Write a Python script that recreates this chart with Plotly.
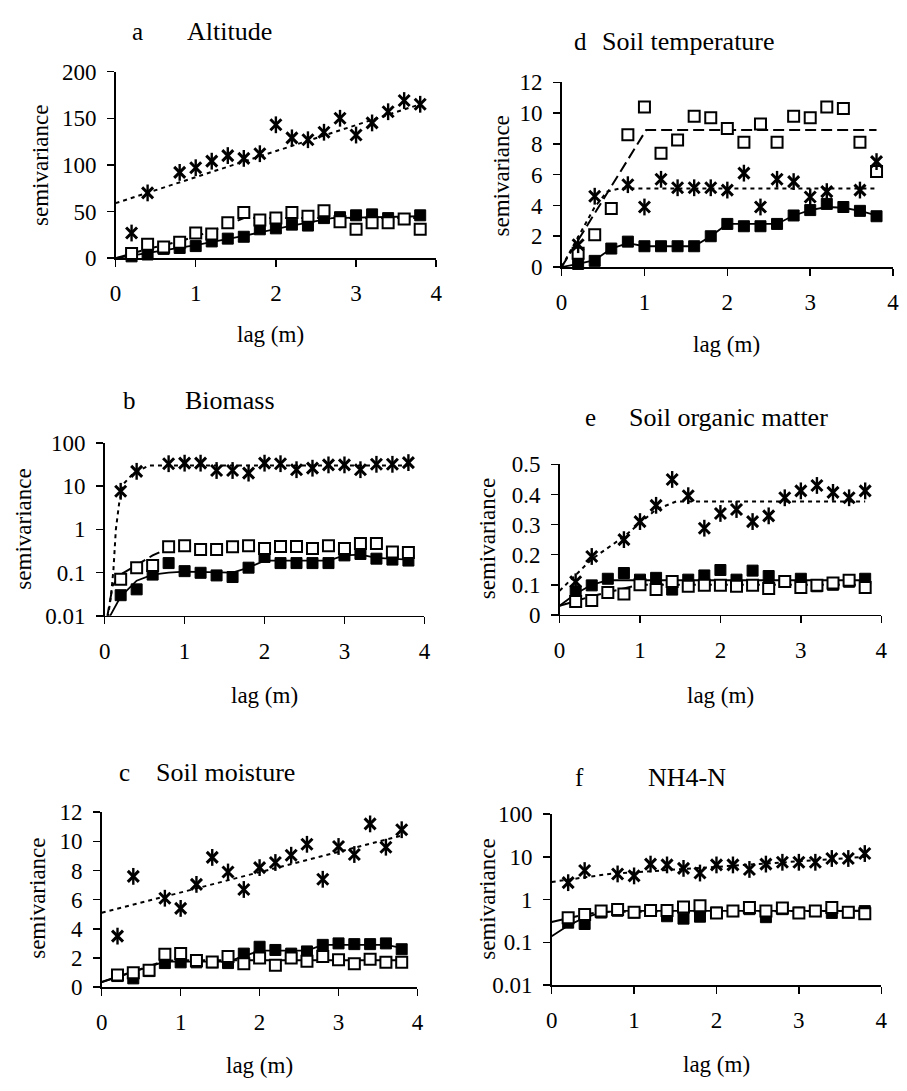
import plotly.graph_objects as go

W, H = 907, 1091

lags = [0.2, 0.4, 0.6, 0.8, 1.0, 1.2, 1.4, 1.6, 1.8, 2.0, 2.2, 2.4, 2.6, 2.8, 3.0, 3.2, 3.4, 3.6, 3.8]

# ---- a Altitude
a_star = [27, 70, None, 92, 97, 104, 110, 107, 112, 143, 129, 127, 135, 150, 132, 145, 157, 169, 165]
a_open = [5, 15, 12, 17, 27, 26, 38, 49, 41, 43, 49, 45, 51, 39, 31, 38, 38, 42, 31]
a_fill = [2, 4, 10, 11, 13, 18, 21, 23, 31, 32, 36, 35, 43, 44, 46, 47, 43, 42, 46]
a_star_fit_x = [0, 3.8]
a_star_fit_y = [59, 165]
a_open_fit_x = [0, 0.4, 0.8, 1.2, 1.6, 3.8]
a_open_fit_y = [0, 10, 18, 29, 43, 43]
a_fill_fit_x = [0, 1.0, 1.6, 2.2, 2.7, 3.8]
a_fill_fit_y = [0, 14, 24, 35, 43, 45]

# ---- b Biomass
b_star = [7.6, 22, None, 33, 34, 34, 23, 23, 20, 34, 33, 24, 26, 31, 31, 24, 32, 32, 35]
b_open = [0.07, 0.13, 0.145, 0.395, 0.42, 0.34, 0.34, 0.395, 0.42, 0.36, 0.4, 0.4, 0.36, 0.42, 0.36, 0.47, 0.47, 0.30, 0.29]
b_fill = [0.03, 0.041, 0.09, 0.166, 0.108, 0.099, 0.086, 0.079, 0.13, 0.23, 0.166, 0.166, 0.166, 0.166, 0.25, 0.27, 0.21, 0.2, 0.19]
b_star_fit_x = [0.04, 0.08, 0.11, 0.14, 0.18, 0.23, 0.35, 0.55, 3.8]
b_star_fit_y = [0.009, 0.03, 0.12, 1.0, 3.9, 11, 19, 30, 30]
b_open_fit_x = [0.03, 0.1, 0.2, 0.4, 0.6, 0.8, 1.0, 3.8]
b_open_fit_y = [0.009, 0.05, 0.09, 0.15, 0.25, 0.37, 0.4, 0.38]
b_fill_fit_x = [0.04, 0.2, 0.4, 0.6, 0.8, 1.0, 1.6, 1.8, 2.0, 2.8, 3.0, 3.2, 3.4, 3.8]
b_fill_fit_y = [0.008, 0.028, 0.065, 0.09, 0.1, 0.105, 0.1, 0.13, 0.19, 0.19, 0.25, 0.26, 0.22, 0.2]

# ---- c Soil moisture
c_star = [3.5, 7.6, None, 6.1, 5.4, 7.05, 8.9, 7.9, 6.7, 8.2, 8.55, 9.05, 9.8, 7.4, 9.65, 9.1, 11.2, 9.6, 10.8]
c_open = [0.83, 0.98, 1.16, 2.25, 2.3, 1.83, 1.72, 2.1, 1.6, 2.0, 1.5, 2.0, 1.77, 2.1, 1.88, 1.6, 1.92, 1.7, 1.7]
c_fill = [0.76, 0.6, 1.1, 1.65, 1.7, 1.7, 1.7, 1.65, 2.3, 2.77, 2.55, 2.3, 2.45, 2.9, 3.0, 2.95, 2.95, 3.0, 2.6]
c_star_fit_x = [0, 3.8]
c_star_fit_y = [5.1, 10.4]
c_open_fit_x = [0, 0.8, 1.0, 3.8]
c_open_fit_y = [0.35, 1.8, 1.85, 1.85]
c_fill_fit_x = [0, 0.8, 1.6, 2.0, 2.6, 2.8, 3.6, 3.8]
c_fill_fit_y = [0.35, 1.75, 1.75, 2.5, 2.5, 2.9, 2.9, 2.7]

# ---- d Soil temperature
d_star = [1.45, 4.6, None, 5.35, 3.9, 5.7, 5.15, 5.15, 5.15, 5.0, 6.1, 3.9, 5.7, 5.55, 4.55, 4.9, None, 5.0, 6.85]
d_open = [0.9, 2.1, 3.8, 8.6, 10.4, 7.4, 8.25, 9.8, 9.7, 9.0, 8.1, 9.3, 8.1, 9.8, 9.7, 10.4, 10.3, 8.1, 6.2]
d_fill = [0.2, 0.4, 1.2, 1.65, 1.35, 1.35, 1.35, 1.35, 2.0, 2.8, 2.65, 2.65, 2.8, 3.35, 3.7, 4.1, 3.9, 3.65, 3.3]
d_star_fit_x = [0, 0.2, 0.4, 0.55, 0.7, 3.8]
d_star_fit_y = [0, 2.0, 3.9, 4.9, 5.1, 5.1]
d_open_fit_x = [0, 1.02, 3.8]
d_open_fit_y = [0, 8.9, 8.9]
d_fill_fit_x = [0, 0.2, 0.4, 0.6, 0.8, 1.0, 1.6, 1.8, 2.0, 2.6, 2.8, 3.0, 3.2, 3.4, 3.6, 3.8]
d_fill_fit_y = [0, 0.2, 0.45, 1.2, 1.55, 1.35, 1.35, 2.0, 2.8, 2.8, 3.35, 3.7, 3.9, 3.85, 3.65, 3.35]

# ---- e Soil organic matter
e_star = [0.11, 0.194, None, 0.25, 0.31, 0.364, 0.45, 0.396, 0.288, 0.337, 0.35, 0.31, 0.329, 0.389, 0.412, 0.43, 0.407, 0.389, 0.412]
e_open = [0.044, 0.048, 0.074, 0.069, 0.1, 0.084, 0.111, 0.095, 0.098, 0.098, 0.095, 0.098, 0.088, 0.111, 0.091, 0.098, 0.106, 0.115, 0.091]
e_fill = [0.078, 0.098, 0.12, 0.139, 0.117, 0.123, 0.084, 0.117, 0.131, 0.149, 0.117, 0.147, 0.129, 0.11, 0.12, 0.095, 0.1, 0.11, 0.12]
e_star_fit_x = [0, 0.4, 0.8, 1.2, 1.45, 3.8]
e_star_fit_y = [0.08, 0.185, 0.26, 0.35, 0.377, 0.377]
e_open_fit_x = [0, 0.4, 0.8, 1.0, 3.8]
e_open_fit_y = [0.03, 0.062, 0.088, 0.1, 0.1]
e_fill_fit_x = [0, 0.2, 0.4, 0.6, 3.8]
e_fill_fit_y = [0.03, 0.07, 0.1, 0.115, 0.115]

# ---- f NH4-N
f_star = [2.5, 4.8, None, 4.0, 3.6, 6.8, 6.5, 5.4, 4.2, 6.5, 6.5, 5.1, 6.8, 7.5, 7.5, 7.5, 9.2, 9.2, 12]
f_open = [0.38, 0.45, 0.54, 0.59, 0.51, 0.56, 0.56, 0.67, 0.72, 0.49, 0.54, 0.66, 0.54, 0.64, 0.49, 0.54, 0.66, 0.51, 0.47]
f_fill = [0.29, 0.27, 0.5, 0.55, 0.5, 0.55, 0.41, 0.36, 0.4, 0.5, 0.54, 0.6, 0.39, 0.6, 0.5, 0.54, 0.49, 0.5, 0.54]
f_star_fit_x = [0, 0.7, 3.8]
f_star_fit_y = [2.6, 4.0, 10.0]
f_open_fit_x = [0, 0.2, 0.4, 0.6, 3.8]
f_open_fit_y = [0.3, 0.37, 0.45, 0.52, 0.55]
f_fill_fit_x = [0, 0.2, 0.4, 0.6, 0.8, 3.8]
f_fill_fit_y = [0.14, 0.25, 0.38, 0.5, 0.55, 0.55]

x_ticks = [0, 1, 2, 3, 4]
lin_ticks = {
    "a": [0, 50, 100, 150, 200],
    "c": [0, 2, 4, 6, 8, 10, 12],
    "d": [0, 2, 4, 6, 8, 10, 12],
    "e": [0, 0.1, 0.2, 0.3, 0.4, 0.5],
}
lin_ticktext = {
    "a": ["0", "50", "100", "150", "200"],
    "c": ["0", "2", "4", "6", "8", "10", "12"],
    "d": ["0", "2", "4", "6", "8", "10", "12"],
    "e": ["0", "0.1", "0.2", "0.3", "0.4", "0.5"],
}
log_ticks = [0.01, 0.1, 1, 10, 100]
log_ticktext = ["0.01", "0.1", "1", "10", "100"]

FONT = "Liberation Serif, 'Times New Roman', Times, 'DejaVu Serif', serif"
TICKFONT = dict(family=FONT, size=23, color="black")

panels = [
    ("a", "a", "Altitude", (111, 436, 61, 252), False, 200,
     (a_star, a_open, a_fill, a_star_fit_x, a_star_fit_y, a_open_fit_x, a_open_fit_y, a_fill_fit_x, a_fill_fit_y)),
    ("b", "b", "Biomass", (100, 424, 441, 618), True, None,
     (b_star, b_open, b_fill, b_star_fit_x, b_star_fit_y, b_open_fit_x, b_open_fit_y, b_fill_fit_x, b_fill_fit_y)),
    ("c", "c", "Soil moisture", (97, 417, 819, 998), False, 12,
     (c_star, c_open, c_fill, c_star_fit_x, c_star_fit_y, c_open_fit_x, c_open_fit_y, c_fill_fit_x, c_fill_fit_y)),
    ("d", "d", "Soil temperature", (563, 899, 72, 261), False, 12,
     (d_star, d_open, d_fill, d_star_fit_x, d_star_fit_y, d_open_fit_x, d_open_fit_y, d_fill_fit_x, d_fill_fit_y)),
    ("e", "e", "Soil organic matter", (561, 887, 463, 617), False, 0.5,
     (e_star, e_open, e_fill, e_star_fit_x, e_star_fit_y, e_open_fit_x, e_open_fit_y, e_fill_fit_x, e_fill_fit_y)),
    ("f", "f", "NH4-N", (553, 887, 821, 996), True, None,
     (f_star, f_open, f_fill, f_star_fit_x, f_star_fit_y, f_open_fit_x, f_open_fit_y, f_fill_fit_x, f_fill_fit_y)),
]

letter_pos = {"a": (133, 20), "b": (125, 398), "c": (120, 778), "d": (582, 30), "e": (592, 415), "f": (581, 783)}
title_pos = {"a": (227, 20), "b": (227, 398), "c": (222, 778), "d": (692, 30), "e": (732, 415), "f": (690, 783)}
ylab_pos = {"a": (35, 157), "b": (18, 529), "c": (32, 907), "d": (502, 168), "e": (488, 539), "f": (488, 908)}
xlab_pos = {"a": (268, 330), "b": (262, 700), "c": (257, 1078), "d": (730, 340), "e": (724, 700), "f": (720, 1077)}


def px(x):
    return x / W


def py(y):
    return 1 - y / H


fig = go.Figure()
annotations = []
TICK = dict(ticklen=7, tickwidth=1.5, tickcolor="black")

for i, (key, letter, title, box, is_log, ymax, data) in enumerate(panels, start=1):
    star, opn, fill, sfx, sfy, ofx, ofy, ffx, ffy = data
    xa = "x" if i == 1 else f"x{i}"
    ya = "y" if i == 1 else f"y{i}"
    common = dict(xaxis=xa, yaxis=ya, showlegend=False, cliponaxis=False, hoverinfo="skip")
    fig.add_trace(go.Scatter(x=sfx, y=sfy, mode="lines",
                             line=dict(color="black", width=2, dash="4px,4px"), **common))
    fig.add_trace(go.Scatter(x=ofx, y=ofy, mode="lines",
                             line=dict(color="black", width=2, dash="11px,5px"), **common))
    fig.add_trace(go.Scatter(x=ffx, y=ffy, mode="lines",
                             line=dict(color="black", width=1.8), **common))
    fig.add_trace(go.Scatter(x=lags, y=fill, mode="markers",
                             marker=dict(symbol="square", size=11, color="black",
                                         line=dict(color="black", width=1)), **common))
    fig.add_trace(go.Scatter(x=lags, y=opn, mode="markers",
                             marker=dict(symbol="square", size=11, color="white",
                                         line=dict(color="black", width=2)), **common))
    fig.add_trace(go.Scatter(x=lags, y=star, mode="markers",
                             marker=dict(symbol="x-thin-open", size=11, color="black",
                                         line=dict(color="black", width=3)), **common))
    fig.add_trace(go.Scatter(x=lags, y=star, mode="markers",
                             marker=dict(symbol="line-ns-open", size=12, color="black",
                                         line=dict(color="black", width=2.4)), **common))

    x0, x1, yt, yb = box
    xkey = "xaxis" if i == 1 else f"xaxis{i}"
    ykey = "yaxis" if i == 1 else f"yaxis{i}"
    fig.layout[xkey] = dict(
        domain=[px(x0), px(x1)], range=[0, 4], anchor=ya,
        tickmode="array", tickvals=x_ticks, ticktext=[str(v) for v in x_ticks],
        ticks="outside", **TICK,
        showline=True, linecolor="black", linewidth=1.5,
        showgrid=False, zeroline=False, tickfont=TICKFONT, ticklabelstandoff=7,
    )
    if is_log:
        yv, yt_txt = log_ticks, log_ticktext
        yrange = dict(type="log", range=[-2, 2])
    else:
        yv, yt_txt = lin_ticks[key], lin_ticktext[key]
        yrange = dict(range=[0, ymax])
    ydict = dict(yrange)
    ydict.update(dict(
        domain=[py(yb), py(yt)], anchor=xa,
        tickmode="array", tickvals=yv, ticktext=yt_txt,
        ticks="outside", **TICK,
        showline=True, linecolor="black", linewidth=1.5,
        showgrid=False, zeroline=False, tickfont=TICKFONT, ticklabelstandoff=6,
    ))
    fig.layout[ykey] = ydict

    # overlay axes carrying the inner half of each tick, so ticks cross the axis line
    j = i + 6
    fig.layout[f"xaxis{j}"] = dict(
        overlaying=xa, anchor=ya, range=[0, 4],
        tickmode="array", tickvals=x_ticks, ticks="inside", **TICK,
        showticklabels=False, showline=False, showgrid=False, zeroline=False,
    )
    oy = dict(yrange)
    oy.update(dict(
        overlaying=ya, anchor=xa, side="left",
        tickmode="array", tickvals=yv, ticks="inside", **TICK,
        showticklabels=False, showline=False, showgrid=False, zeroline=False,
    ))
    fig.layout[f"yaxis{j}"] = oy

    lx, ly = letter_pos[key]
    tx, ty = title_pos[key]
    annotations.append(dict(text=letter, x=px(lx), y=py(ly), xref="paper", yref="paper",
                            showarrow=False, xanchor="center", yanchor="middle",
                            font=dict(family=FONT, size=25, color="black")))
    annotations.append(dict(text=title, x=px(tx), y=py(ty), xref="paper", yref="paper",
                            showarrow=False, xanchor="center", yanchor="middle",
                            font=dict(family=FONT, size=26, color="black")))
    yx, yy = ylab_pos[key]
    annotations.append(dict(text="semivariance", x=px(yx), y=py(yy), xref="paper", yref="paper",
                            showarrow=False, xanchor="center", yanchor="middle", textangle=-90,
                            font=dict(family=FONT, size=23, color="black")))
    xx, xy = xlab_pos[key]
    annotations.append(dict(text="lag (m)", x=px(xx), y=py(xy), xref="paper", yref="paper",
                            showarrow=False, xanchor="center", yanchor="middle",
                            font=dict(family=FONT, size=23, color="black")))

fig.update_layout(
    width=W, height=H,
    margin=dict(l=0, r=0, t=0, b=0),
    paper_bgcolor="white", plot_bgcolor="white",
    annotations=annotations,
    font=dict(family=FONT, color="black"),
    hovermode=False,
)

fig.write_html(
    "out.html",
    config={"displayModeBar": False, "staticPlot": True},
    post_script="document.body.style.margin='0';document.body.style.overflow='hidden';",
)
